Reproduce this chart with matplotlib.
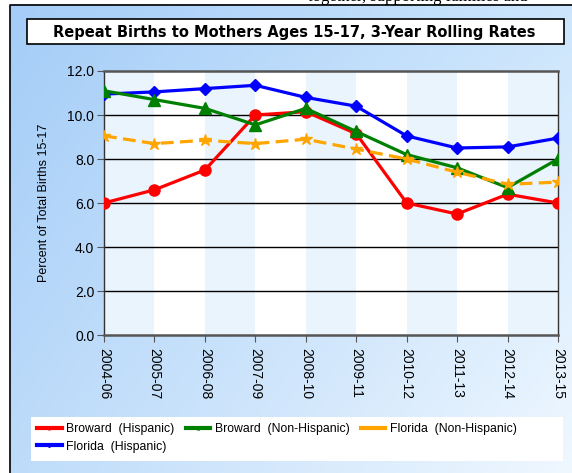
import numpy as np
import matplotlib.pyplot as plt
from matplotlib.lines import Line2D

# data
periods = ['2004-06', '2005-07', '2006-08', '2007-09', '2008-10',
           '2009-11', '2010-12', '2011-13', '2012-14', '2013-15']
broward_hisp = [6.0, 6.6, 7.5, 10.0, 10.15, 9.15, 6.0, 5.5, 6.4, 6.0]
broward_non = [11.1, 10.7, 10.3, 9.55, 10.3, 9.25, 8.2, 7.6, 6.7, 8.0]
florida_non = [9.05, 8.7, 8.85, 8.7, 8.9, 8.45, 8.0, 7.4, 6.85, 6.95]
florida_hisp = [10.95, 11.05, 11.2, 11.35, 10.8, 10.4, 9.05, 8.5, 8.55, 8.95]
yticks = [0, 2, 4, 6, 8, 10, 12]

W, H = 572, 473
fig = plt.figure(figsize=(W / 100, H / 100), dpi=100)

# gradient panel behind everything
bg = fig.add_axes([0, 0, 1, 1])
xx, yy = np.meshgrid(np.linspace(0, 1, W), np.linspace(0, 1, H))
tl = np.array([0.64, 0.80, 0.97])
tr = np.array([0.80, 0.90, 0.99])
bl = np.array([0.74, 0.86, 0.98])
br = np.array([0.94, 0.97, 1.00])
img = ((1 - xx)[..., None] * (1 - yy)[..., None] * tl + xx[..., None] * (1 - yy)[..., None] * tr
       + (1 - xx)[..., None] * yy[..., None] * bl + xx[..., None] * yy[..., None] * br)
img[:5, :, :] = 1.0
img[:, :10, :] = 1.0
bg.imshow(img, extent=[0, W, H, 0], aspect='auto', interpolation='bilinear')
bg.plot([10, 10, W], [H, 5.5, 5.5], color='black', lw=1.2)
bg.set_xlim(0, W)
bg.set_ylim(H, 0)
bg.axis('off')
# page text cut by the screenshot edge
bg.text(308, -3, 'together, supporting families and', fontsize=12,
        family='Liberation Serif', va='center', ha='left')

# title box
bg.add_patch(plt.Rectangle((27, 19.5), 537, 25, facecolor='white', edgecolor='black', lw=1.2))
bg.text(294, 32, 'Repeat Births to Mothers Ages 15-17, 3-Year Rolling Rates',
        fontsize=10.5, fontweight='bold', ha='center', va='center', family='DejaVu Sans')

# legend background box
bg.add_patch(plt.Rectangle((31, 417), 532, 44, facecolor='white', edgecolor='none'))

# plot area
ax = fig.add_axes([104 / W, 1 - 335 / H, 454 / W, 264 / H])
ax.set_facecolor('white')
x = np.arange(len(periods))
for i in range(0, len(periods) - 1, 2):
    ax.axvspan(i, i + 1, color='#eaf4fd', lw=0, zorder=0)

for v in yticks[1:-1]:
    ax.axhline(v, color='black', lw=1, zorder=1)

ax.plot(x, florida_hisp, color='blue', lw=2.3, marker='D', ms=6, zorder=3)
ax.plot(x, broward_hisp, color='red', lw=2.3, marker='o', ms=8, zorder=4)
ax.plot(x, broward_non, color='green', lw=2.3, marker='^', ms=9, zorder=5)
ax.plot(x, florida_non, color='orange', lw=2.3, ls=(0, (4, 2)), marker='*', ms=9, zorder=6)

ax.set_xlim(0, 9)
ax.set_ylim(0, 12)
ax.set_yticks(yticks)
ax.set_yticklabels([f'{v:.1f}' for v in yticks], fontsize=10, family='Liberation Sans')
ax.set_xticks(x)
ax.set_xticklabels(periods, rotation=270, fontsize=10, family='Liberation Sans')
ax.tick_params(length=5, color='#555555', pad=2)
ax.tick_params(axis='x', pad=4)
ax.set_ylabel('Percent of Total Births 15-17', fontsize=9, family='Liberation Sans')
ax.yaxis.set_label_coords(-0.12, 0.5)

for s in ['left', 'right']:
    ax.spines[s].set_linestyle((0, (1, 1)))
    ax.spines[s].set_color('#333333')
    ax.spines[s].set_linewidth(1)
for s in ['top', 'bottom']:
    ax.spines[s].set_color('#555555')
    ax.spines[s].set_linewidth(1.8)

# legend (order chosen so it fills row by row like the original)
handles = [Line2D([], [], color='red', lw=3, marker='o', ms=2),
           Line2D([], [], color='blue', lw=3, marker='D', ms=2),
           Line2D([], [], color='green', lw=3, marker='^', ms=2),
           Line2D([], [], color='orange', lw=3, marker='*', ms=2)]
labels = ['Broward  (Hispanic)', 'Florida  (Hispanic)', 'Broward  (Non-Hispanic)', 'Florida  (Non-Hispanic)']
leg = fig.legend(handles, labels, ncol=3, loc='upper left',
                 bbox_to_anchor=(31 / W, 1 - 417 / H), frameon=False,
                 prop={'family': 'Liberation Sans', 'size': 8.8},
                 handlelength=2.0, handletextpad=0.4, columnspacing=0.9,
                 labelspacing=0.45, borderpad=0.5, borderaxespad=0)

fig.savefig('out.png', dpi=100)
